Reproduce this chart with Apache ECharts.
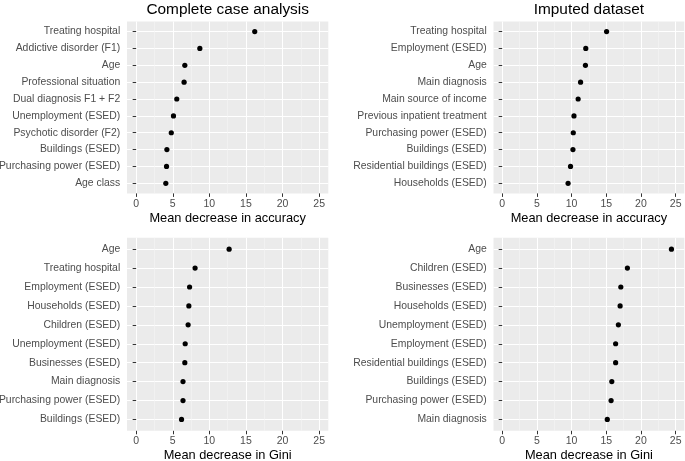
<!DOCTYPE html>
<html>
<head>
<meta charset="utf-8">
<script src="https://cdn.jsdelivr.net/npm/echarts@6/dist/echarts.min.js"></script>
<style>html,body{margin:0;padding:0;background:#fff}#c{width:685px;height:461px}</style>
</head>
<body>
<div id="c"></div>
<script>
// ---- Data ----
const ccaAccCategories = ["Treating hospital","Addictive disorder (F1)","Age","Professional situation","Dual diagnosis F1 + F2","Unemployment (ESED)","Psychotic disorder (F2)","Buildings (ESED)","Purchasing power (ESED)","Age class"];
const ccaAccValues = [16.2, 8.7, 6.65, 6.55, 5.55, 5.1, 4.8, 4.2, 4.15, 4.05];

const impAccCategories = ["Treating hospital","Employment (ESED)","Age","Main diagnosis","Main source of income","Previous inpatient treatment","Purchasing power (ESED)","Buildings (ESED)","Residential buildings (ESED)","Households (ESED)"];
const impAccValues = [15.05, 12.05, 12.0, 11.3, 10.95, 10.35, 10.25, 10.2, 9.85, 9.5];

const ccaGiniCategories = ["Age","Treating hospital","Employment (ESED)","Households (ESED)","Children (ESED)","Unemployment (ESED)","Businesses (ESED)","Main diagnosis","Purchasing power (ESED)","Buildings (ESED)"];
const ccaGiniValues = [12.7, 8.05, 7.3, 7.2, 7.1, 6.7, 6.65, 6.4, 6.4, 6.2];

const impGiniCategories = ["Age","Children (ESED)","Businesses (ESED)","Households (ESED)","Unemployment (ESED)","Employment (ESED)","Residential buildings (ESED)","Buildings (ESED)","Purchasing power (ESED)","Main diagnosis"];
const impGiniValues = [24.4, 18.05, 17.1, 17.0, 16.75, 16.35, 16.35, 15.8, 15.7, 15.15];

const xTicksMin = 0, xTicksMax = 25, xTickStep = 5;
const titles = ["Complete case analysis", "Imputed dataset"];
const xNames = ["Mean decrease in accuracy", "Mean decrease in Gini"];

// ---- Layout ----
const FONT = '"Liberation Sans", Arial, sans-serif';
const panels = [
  {cats: ccaAccCategories, vals: ccaAccValues, L: 127, W: 201.3, T: 21.5, H: 171.9, name: xNames[0]},
  {cats: impAccCategories, vals: impAccValues, L: 493.5, W: 190.8, T: 21.5, H: 171.9, name: xNames[0]},
  {cats: ccaGiniCategories, vals: ccaGiniValues, L: 127, W: 201.3, T: 237.8, H: 193, name: xNames[1]},
  {cats: impGiniCategories, vals: impGiniValues, L: 493.5, W: 190.8, T: 237.8, H: 193, name: xNames[1]}
];
const EXP = 1.25; // ggplot 5% expansion of 0..25
const span = xTicksMax - xTicksMin + 2 * EXP;

const grid = [], xAxis = [], yAxis = [], series = [];
panels.forEach((p, k) => {
  const u = p.W / span;
  const step = p.H / (p.cats.length - 1 + 1.2);
  const inset = 0.6 * step;
  const gi = grid.length;
  // background grid
  grid.push({left: p.L, top: p.T, width: p.W, height: p.H, show: true, backgroundColor: '#EBEBEB', borderWidth: 0, z: -10, containLabel: false, outerBoundsMode: 'none'});
  xAxis.push({gridIndex: gi, type: 'value', show: false, min: 0, max: 1});
  yAxis.push({gridIndex: gi, type: 'value', show: false, min: 0, max: 1});
  // vertical grid lines & x axis
  grid.push({left: p.L + EXP * u, top: p.T, width: (xTicksMax - xTicksMin) * u, height: p.H, show: false, containLabel: false, outerBoundsMode: 'none'});
  xAxis.push({
    gridIndex: gi + 1, type: 'value', min: xTicksMin, max: xTicksMax, interval: xTickStep, z: 5,
    axisLine: {show: false},
    axisTick: {show: true, length: 3.5, lineStyle: {color: '#333333', width: 1}},
    axisLabel: {color: '#4D4D4D', fontSize: 10.5, fontFamily: FONT, margin: 5},
    splitLine: {show: true, lineStyle: {color: '#FFFFFF', width: 1.1}},
    minorTick: {show: false, splitNumber: 2},
    minorSplitLine: {show: true, lineStyle: {color: '#F5F5F5', width: 0.6}},
    name: p.name, nameLocation: 'middle', nameGap: 18.4,
    nameTextStyle: {color: '#000000', fontSize: 12.8, fontFamily: FONT}
  });
  yAxis.push({gridIndex: gi + 1, type: 'value', show: false, min: 0, max: 1});
  // horizontal grid lines, y axis and points
  grid.push({left: p.L, top: p.T + inset, width: p.W, height: p.H - 2 * inset, show: false, containLabel: false, outerBoundsMode: 'none'});
  xAxis.push({gridIndex: gi + 2, type: 'value', show: false, min: xTicksMin - EXP, max: xTicksMax + EXP});
  yAxis.push({
    gridIndex: gi + 2, type: 'category', data: p.cats, inverse: true, boundaryGap: false, z: 5,
    axisLine: {show: false},
    axisTick: {show: true, length: 3.5, lineStyle: {color: '#333333', width: 1}},
    axisLabel: {color: '#4D4D4D', fontSize: 10.4, fontFamily: FONT, margin: 6.8, interval: 0},
    splitLine: {show: true, interval: 0, lineStyle: {color: '#FFFFFF', width: 1.1}}
  });
  series.push({
    type: 'scatter', xAxisIndex: gi + 2, yAxisIndex: gi + 2, z: 10,
    symbol: 'circle', symbolSize: 5.2, itemStyle: {color: '#000000', opacity: 1},
    data: p.vals.map((v, i) => [v, i]), silent: true
  });
});

const title = [0, 1].map(k => ({
  text: titles[k], left: panels[k].L + panels[k].W / 2, top: 2, textAlign: 'center', padding: 0,
  textStyle: {color: '#000000', fontSize: 15.4, fontWeight: 'normal', fontFamily: FONT}
}));

const chart = echarts.init(document.getElementById('c'), null, {renderer: 'canvas'});
chart.setOption({animation: false, backgroundColor: '#FFFFFF', title, grid, xAxis, yAxis, series});
</script>
</body>
</html>
